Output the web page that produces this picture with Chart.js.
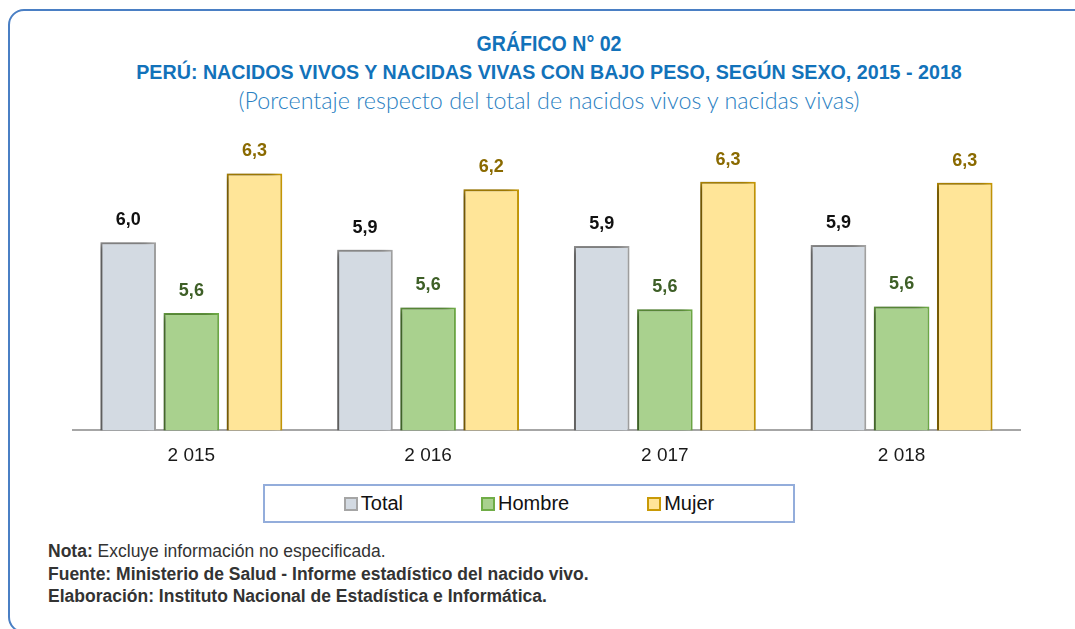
<!DOCTYPE html>
<html>
<head>
<meta charset="utf-8">
<script src="https://cdn.jsdelivr.net/npm/chart.js@4.4.0/dist/chart.umd.min.js"></script>
<style>
  body { margin: 0; width: 1075px; height: 629px; overflow: hidden; background: #fff; position: relative;
         font-family: "Liberation Sans Narrow", "Liberation Sans", Arial, sans-serif; }
  #frame { position: absolute; left: 8px; top: 9px; width: 1100px; height: 624px;
           border: 2px solid #4a7fc4; border-radius: 16px; box-sizing: border-box; }
  .title { position: absolute; left: 0; width: 1098px; text-align: center; color: #1272ba; font-weight: bold; }
  #t1 { top: 31px; font-size: 22px; transform: scaleX(0.89); }
  #t2 { top: 60px; font-size: 21px; transform: scaleX(0.937); }
  #t3 { top: 86px; font-size: 23.3px; font-weight: 300; font-family: Lato, "Open Sans", sans-serif; color: #2b7fc2; }
  #chart-wrap { position: absolute; left: 0; top: 0; width: 1075px; height: 482px; }
  #legend { position: absolute; left: 263px; top: 484px; width: 532px; height: 39px; box-sizing: border-box;
            border: 2px solid #93addb; display: flex; justify-content: center; align-items: center; gap: 78px;
            font-size: 20px; color: #111; }
  #legend span.box { display: inline-block; width: 10px; height: 10px; border: 2px solid; margin-right: 3px;
                     vertical-align: -1px; }
  #notes { position: absolute; left: 48px; top: 540px; font-size: 17.5px; line-height: 22.5px; color: #333;
           white-space: nowrap; }
  #notes b { color: #333; }
</style>
</head>
<body>
<div id="frame"></div>
<div class="title" id="t1">GRÁFICO N° 02</div>
<div class="title" id="t2">PERÚ: NACIDOS VIVOS Y NACIDAS VIVAS CON BAJO PESO, SEGÚN SEXO, 2015 - 2018</div>
<div class="title" id="t3">(Porcentaje respecto del total de nacidos vivos y nacidas vivas)</div>
<div id="chart-wrap"><canvas id="bajo-peso-chart"></canvas></div>
<div id="legend"></div>
<div id="notes">
  <b>Nota:</b> Excluye información no especificada.<br>
  <b>Fuente: Ministerio de Salud - Informe estadístico del nacido vivo.</b><br>
  <b>Elaboración: Instituto Nacional de Estadística e Informática.</b>
</div>
<script>
// values (labels show them rounded to one decimal)
var years = ['2 015', '2 016', '2 017', '2 018'];
var total = [5.96, 5.92, 5.94, 5.945];
var hombre = [5.58, 5.61, 5.60, 5.615];
var mujer = [6.33, 6.245, 6.285, 6.28];

var labelColors = ['#111111', '#3e5f27', '#8a6a00'];

// soft shadow on the left side of the bars
var barShadow = {
  id: 'barShadow',
  beforeDatasetsDraw: function(chart) {
    var ctx = chart.ctx;
    ctx.save();
    ctx.shadowColor = 'rgba(0,0,0,0.5)';
    ctx.shadowBlur = 8;
    ctx.shadowOffsetX = -5;
    ctx.shadowOffsetY = 0;
  },
  afterDatasetsDraw: function(chart) {
    chart.ctx.restore();
  }
};

// value labels over each bar
var valueLabels = {
  id: 'valueLabels',
  afterDatasetsDraw: function(chart) {
    var ctx = chart.ctx;
    ctx.save();
    ctx.font = 'bold 18px "Liberation Sans Narrow", "Liberation Sans", Arial';
    ctx.textAlign = 'center';
    ctx.textBaseline = 'middle';
    chart.data.datasets.forEach(function(ds, i) {
      var meta = chart.getDatasetMeta(i);
      ctx.fillStyle = labelColors[i];
      meta.data.forEach(function(bar, j) {
        var txt = ds.data[j].toFixed(1).replace('.', ',');
        ctx.fillText(txt, bar.x, bar.y - 22);
      });
    });
    ctx.restore();
  }
};

var ctx = document.getElementById('bajo-peso-chart');
var myChart = new Chart(ctx, {
  type: 'bar',
  data: {
    labels: years,
    datasets: [
      { label: 'Total', data: total, backgroundColor: '#d3dae2', borderColor: '#a5a5a5', borderWidth: 2 },
      { label: 'Hombre', data: hombre, backgroundColor: '#a9d18e', borderColor: '#70ad47', borderWidth: 2 },
      { label: 'Mujer', data: mujer, backgroundColor: '#ffe598', borderColor: '#c99a06', borderWidth: 2 }
    ]
  },
  options: {
    responsive: true,
    maintainAspectRatio: false,
    animation: false,
    layout: { padding: { left: 73, right: 55, top: 140, bottom: 1 } },
    datasets: { bar: { categoryPercentage: 0.80, barPercentage: 0.88 } },
    plugins: {
      legend: { display: false },
      tooltip: { enabled: false }
    },
    scales: {
      x: {
        grid: { display: false, drawTicks: false },
        border: { display: true, color: '#a6a6a6', width: 2 },
        ticks: { padding: 14, color: '#1a1a1a', font: { family: '"Liberation Sans Narrow", "Liberation Sans", Arial', size: 19 } }
      },
      y: {
        display: false,
        min: 4.95,
        max: 6.51
      }
    }
  },
  plugins: [barShadow, valueLabels]
});

// legend built from the chart's datasets
var legendEl = document.getElementById('legend');
myChart.data.datasets.forEach(function(ds) {
  var item = document.createElement('div');
  item.innerHTML = '<span class="box" style="background:' + ds.backgroundColor + ';border-color:' + ds.borderColor + '"></span>' + ds.label;
  legendEl.appendChild(item);
});
</script>
</body>
</html>
